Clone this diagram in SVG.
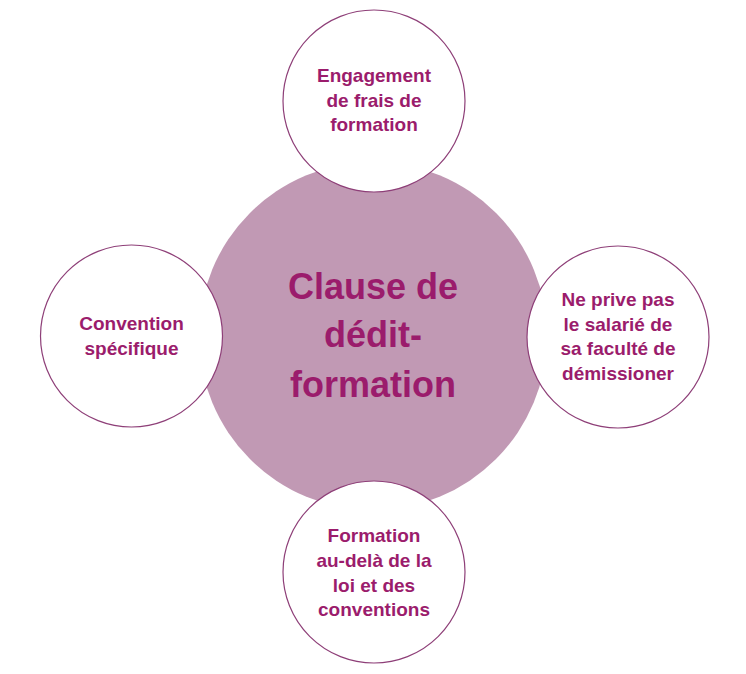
<svg xmlns="http://www.w3.org/2000/svg" width="746" height="674" viewBox="0 0 746 674">
<style>
.main{fill:#C199B4}
.sat{fill:#FFFFFF;stroke:#8E3F78;stroke-width:1.2}
.t{font-family:"Liberation Sans",Arial,sans-serif;font-weight:bold;fill:#9B1C6C;text-anchor:middle}
.s{font-size:19px}
.b{font-size:36px}
</style>
<rect width="746" height="674" fill="#FFFFFF"/>
<g id="connectors"></g>
<g id="center">
<circle class="main" cx="373" cy="336" r="174"/>
<text class="t b" x="373" y="299">Clause de</text>
<text class="t b" x="373" y="347">dédit-</text>
<text class="t b" x="373" y="397">formation</text>
</g>
<g id="top">
<circle class="sat" cx="374" cy="101" r="91"/>
<text class="t s" x="374" y="82">Engagement</text>
<text class="t s" x="374" y="107">de frais de</text>
<text class="t s" x="374" y="131">formation</text>
</g>
<g id="left">
<circle class="sat" cx="131.5" cy="336" r="91"/>
<text class="t s" x="131.5" y="330">Convention</text>
<text class="t s" x="131.5" y="355">spécifique</text>
</g>
<g id="right">
<circle class="sat" cx="618" cy="337" r="91"/>
<text class="t s" x="618" y="306">Ne prive pas</text>
<text class="t s" x="618" y="330.5">le salarié de</text>
<text class="t s" x="618" y="355">sa faculté de</text>
<text class="t s" x="618" y="379.5">démissioner</text>
</g>
<g id="bottom">
<circle class="sat" cx="374" cy="572" r="91"/>
<text class="t s" x="374" y="542">Formation</text>
<text class="t s" x="374" y="567">au-delà de la</text>
<text class="t s" x="374" y="591.5">loi et des</text>
<text class="t s" x="374" y="616">conventions</text>
</g>
</svg>
